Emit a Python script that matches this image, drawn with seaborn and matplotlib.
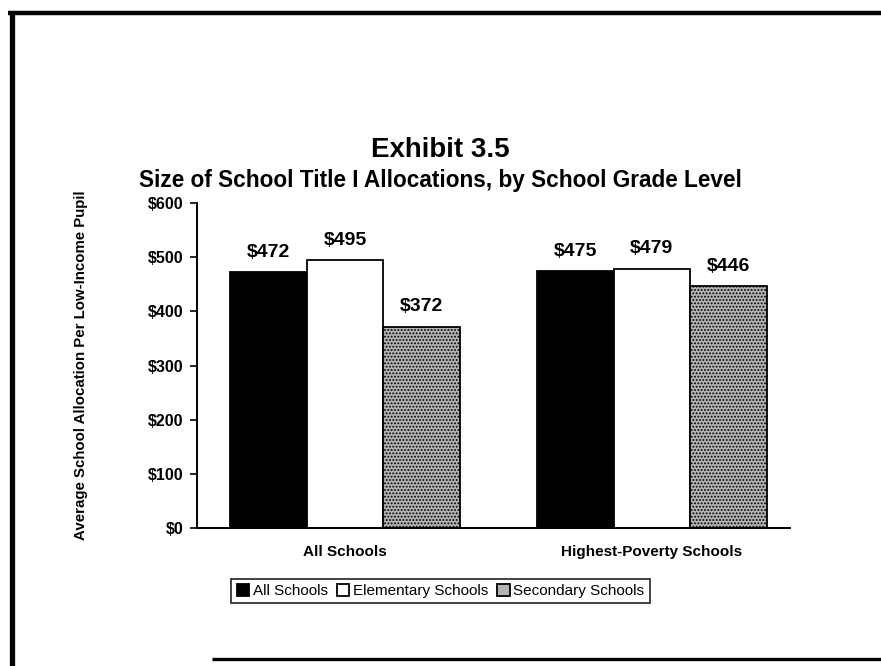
import matplotlib
matplotlib.use("Agg")
import matplotlib.pyplot as plt
from matplotlib.lines import Line2D
import seaborn as sns
import pandas as pd

# Chart data
groups = ["All Schools", "Highest-Poverty Schools"]
series = ["All Schools", "Elementary Schools", "Secondary Schools"]
all_schools = [472, 475]
elementary = [495, 479]
secondary = [372, 446]
y_ticks = [0, 100, 200, 300, 400, 500, 600]
y_tick_labels = ["$0", "$100", "$200", "$300", "$400", "$500", "$600"]

rows = []
for name, vals in zip(series, [all_schools, elementary, secondary]):
    for g, v in zip(groups, vals):
        rows.append({"group": g, "series": name, "value": v})
df = pd.DataFrame(rows)

sns.set_theme(style="white")
plt.rcParams["font.family"] = ["Liberation Sans", "DejaVu Sans"]
plt.rcParams["hatch.linewidth"] = 0.9
for key in ["text.color", "axes.labelcolor", "xtick.color", "ytick.color"]:
    plt.rcParams[key] = "black"

fig = plt.figure(figsize=(8.81, 6.66), dpi=100)
ax = fig.add_axes([197 / 881, 1 - 528 / 666, 593 / 881, 325 / 666])

sns.barplot(
    data=df, x="group", y="value", hue="series",
    order=groups, hue_order=series,
    palette=["#000000", "#ffffff", "#b4b4b4"],
    edgecolor="black", linewidth=1.3, width=0.75,
    saturation=1, ax=ax, legend=True,
)

# stippled fill for the secondary-school bars
for patch in ax.containers[2]:
    patch.set_hatch(".....")

for cont, vals in zip(ax.containers, [all_schools, elementary, secondary]):
    ax.bar_label(cont, labels=[f"${v}" for v in vals], padding=8,
                 fontsize=14, fontweight="bold")

ax.set_ylim(0, 600)
ax.set_xlim(-0.482, 1.45)
ax.set_yticks(y_ticks)
ax.set_yticklabels(y_tick_labels, fontsize=11.5, fontweight="bold")
ax.tick_params(axis="y", direction="out", length=5, width=1.2, pad=5,
               left=True)
ax.tick_params(axis="x", length=0, pad=12)
for lbl in ax.get_xticklabels():
    lbl.set_fontsize(11)
    lbl.set_fontweight("bold")
ax.set_xlabel("")
ax.set_ylabel("Average School Allocation Per Low-Income Pupil",
              fontsize=10.8, fontweight="bold")
ax.yaxis.set_label_coords(-0.184, 0.5)

for side in ["top", "right"]:
    ax.spines[side].set_visible(False)
for side in ["left", "bottom"]:
    ax.spines[side].set_color("black")
    ax.spines[side].set_linewidth(1.4)

handles, labels = ax.get_legend_handles_labels()
ax.get_legend().remove()
leg = fig.legend(
    handles, labels, loc="center", bbox_to_anchor=(0.5, 1 - 591 / 666),
    ncol=3, fontsize=11, frameon=True, fancybox=False,
    handlelength=0.8, handleheight=0.8, handletextpad=0.25,
    columnspacing=0.6, borderpad=0.35, borderaxespad=0,
)
leg.get_frame().set_edgecolor("black")
leg.get_frame().set_linewidth(1.3)

fig.text(0.4994, 1 - 150 / 666, "Exhibit 3.5", ha="center", va="center",
         fontsize=20, fontweight="bold")
fig.text(0.4994, 1 - 181 / 666,
         "Size of School Title I Allocations, by School Grade Level",
         ha="center", va="center", fontsize=16.3, fontweight="bold")

# page frame lines
fig.add_artist(Line2D([8 / 881, 1], [1 - 13 / 666] * 2, color="black",
                      linewidth=3.2, solid_capstyle="butt",
                      transform=fig.transFigure))
fig.add_artist(Line2D([12 / 881] * 2, [0, 1 - 11 / 666], color="black",
                      linewidth=3.8, solid_capstyle="butt",
                      transform=fig.transFigure))
fig.add_artist(Line2D([212 / 881, 1], [1 - 659 / 666] * 2, color="black",
                      linewidth=2.4, solid_capstyle="butt",
                      transform=fig.transFigure))

fig.savefig("out.png", dpi=100)
